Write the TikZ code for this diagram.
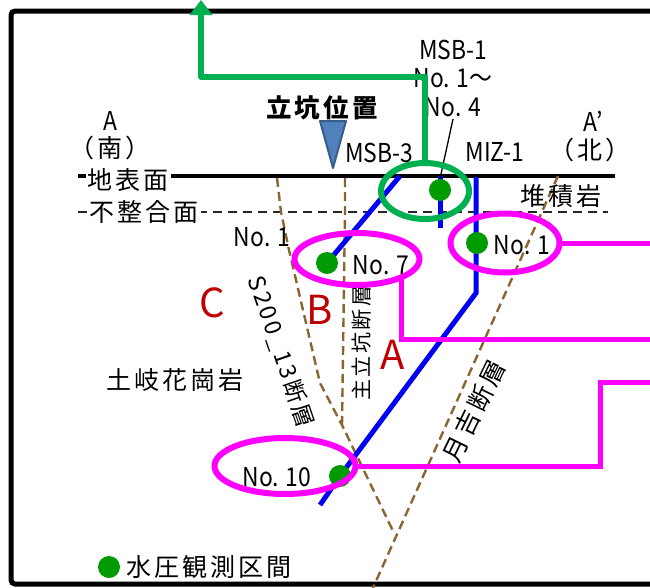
\documentclass[tikz,border=0pt]{standalone}
\usepackage{fontspec}
\setmainfont{Noto Sans CJK JP}
\newfontfamily\jpfont[LetterSpace=12]{Noto Sans CJK JP}
\newfontfamily\latfont[FakeStretch=0.88]{Noto Sans CJK JP}
\usetikzlibrary{shapes.geometric, arrows.meta}

\definecolor{bblue}{RGB}{0,0,245}
\definecolor{dotgreen}{RGB}{0,155,0}
\definecolor{ringgreen}{RGB}{0,176,80}
\definecolor{faultbrown}{RGB}{140,100,50}
\definecolor{labelred}{RGB}{192,0,0}
\definecolor{trifill}{RGB}{79,129,189}
\definecolor{triedge}{RGB}{56,93,138}
\definecolor{pmag}{RGB}{255,0,255}

\tikzset{
  jp/.style={font=\jpfont\fontsize{25}{30}\selectfont, inner sep=0pt},
  jpsmall/.style={font=\jpfont\fontsize{21}{26}\selectfont, inner sep=0pt},
  lat/.style={font=\latfont\fontsize{26}{28.5}\selectfont, inner sep=0pt},
  redlabel/.style={font=\fontsize{40}{44}\selectfont, text=labelred, inner sep=0pt},
  obsdot/.style={circle, fill=dotgreen, minimum size=22pt, inner sep=0pt},
  bore/.style={draw=bblue, line width=5pt},
  fault/.style={draw=faultbrown, line width=2.4pt, dash pattern=on 9pt off 5pt},
  pring/.style={ellipse, draw=pmag, line width=6pt, inner sep=0pt, outer sep=0pt},
  plink/.style={draw=pmag, line width=5pt},
  gring/.style={ellipse, draw=ringgreen, line width=6pt, inner sep=0pt, outer sep=0pt},
  glink/.style={draw=ringgreen, line width=5.5pt, line join=round},
  frame/.style={draw=black, line width=5pt, rounded corners=4pt},
  groundlbl/.style={jp, fill=white, inner sep=2pt},
}

\begin{document}
\begin{tikzpicture}[x=1pt, y=-1pt]
\useasboundingbox (0,0) rectangle (650,587);
\clip (0,0) rectangle (650,587);
\fill[white] (0,0) rectangle (650,587);

% outer frame
\draw[frame] (660,11) -- (11,11) -- (11,584) -- (660,584);

% ground surface and unconformity
\coordinate (s0) at (78,176);  \coordinate (s1) at (615,176);
\coordinate (u0) at (78,212);  \coordinate (u1) at (608,212);
\draw[line width=4pt] (s0) -- (s1);
\draw[line width=2pt, dash pattern=on 9pt off 6pt, black!85] (u0) -- (u1);

% faults
\coordinate (fs0) at (277,178);
\coordinate (fs1) at (281,212);
\coordinate (fs2) at (289,250);
\coordinate (fs3) at (320,383);
\coordinate (fj)  at (342,425);
\coordinate (fy)  at (393,531);
\coordinate (fm0) at (345,178);
\coordinate (fm1) at (345,212);
\coordinate (ft0) at (558,176);
\coordinate (ft1) at (372,590);
\draw[fault] (fs0) -- (fs1) -- (fs2) -- (fs3) -- (fj) -- (fy);
\draw[fault] (fm0) -- (fm1) -- (fj);
\draw[fault] (ft0) -- (ft1);

% boreholes
\coordinate (m3top) at (400,176);
\coordinate (p7)    at (327,263);
\coordinate (m1top) at (440,176);
\coordinate (m1bot) at (440,228);
\coordinate (p1)    at (440,190);
\coordinate (mztop) at (476,177);
\coordinate (mzbend) at (476,293);
\coordinate (p10)   at (340,476);
\coordinate (mzbot) at (320,505);
\coordinate (pz1)   at (477,243);
\draw[bore] (m3top) -- (p7);
\draw[bore] (m1top) -- (m1bot);
\draw[bore] (mztop) -- (mzbend) -- (p10) -- (mzbot);

% ground labels
\node[groundlbl] (lsurf) at (128,180) {地表面};
\node[groundlbl] (lunc)  at (144,212) {不整合面};
\node[jp] (lsed) at (561,196) {堆積岩};
\node[jp] (lgran) at (175,380) {土岐花崗岩};

% observation points
\node[obsdot] (d7)  at (p7) {};
\node[obsdot] (d1)  at (p1) {};
\node[obsdot] (dz1) at (pz1) {};
\node[obsdot] (d10) at (p10) {};

% point labels
\node[lat] (t1l) at (262,237) {No. 1};
\node[lat] (t7)  at (381,265) {No. 7};
\node[lat] (t1r) at (522,245) {No. 1};
\node[lat] (t10) at (277,477) {No. 10};
\node[lat] (tm3) at (379,153) {MSB-3};
\node[lat] (tmz) at (495,152) {MIZ-1};
\node[lat, align=center] (tm1) at (453,78) {MSB-1\\No. 1～\\No. 4};

% leader to MSB-1
\coordinate (ld) at (453,119);
\draw[line width=1.3pt] (ld) -- (d1.north);

% section ends
\node[lat] (ta)  at (110,121) {A};
\node[jp]  (tas) at (110,148) {（南）};
\node[lat] (tb)  at (593,121) {A’};
\node[jp]  (tbn) at (590,150) {（北）};

% fault names
\node[jp, font=\jpfont\fontsize{23}{28}\selectfont, rotate=-71] (fn1) at (281,352) {S200\_13断層};
\node[jpsmall, rotate=90] (fn2) at (362,343) {主立坑断層};
\node[jp, rotate=64] (fn3) at (474,411) {月吉断層};

% zone letters
\node[redlabel] (zc) at (212,303) {C};
\node[redlabel] (zb) at (320,310) {B};
\node[redlabel] (za) at (393,355) {A};

% magenta rings and links
\node[pring, minimum width=125pt, minimum height=52pt] (e7) at (357,259) {};
\node[pring, minimum width=109pt, minimum height=59pt] (e1) at (505,243) {};
\node[pring, minimum width=141pt, minimum height=56pt] (e10) at (285,466) {};
\coordinate (r1) at (660,243);
\coordinate (r7) at (660,339);
\coordinate (r10) at (660,382);
\draw[plink] (e1.east) -- (r1);
\draw[plink] (e7.-22) |- (r7);
\draw[plink] (e10.east) -| (600,382) -- (r10);

% shaft position
\node[font=\jpfont\bfseries\fontsize{25.5}{28}\selectfont, inner sep=0pt] (tshaft) at (322,108) {立坑位置};
\draw[fill=trifill, draw=triedge, line width=2pt, line join=round] (320,121) -- (346,121) -- (333,168) -- cycle;

% green ring with arrow
\node[gring, minimum width=88pt, minimum height=56pt] (eg) at (425,191) {};
\coordinate (gtop) at (201,0);
\draw[glink, -{Triangle[length=15pt, width=22pt]}] (eg.north) |- (201,77) -- (gtop);

% legend
\node[obsdot] (ldot) at (109,567) {};
\node[jp, anchor=west] (llbl) at (126,567) {水圧観測区間};
\end{tikzpicture}
\end{document}
